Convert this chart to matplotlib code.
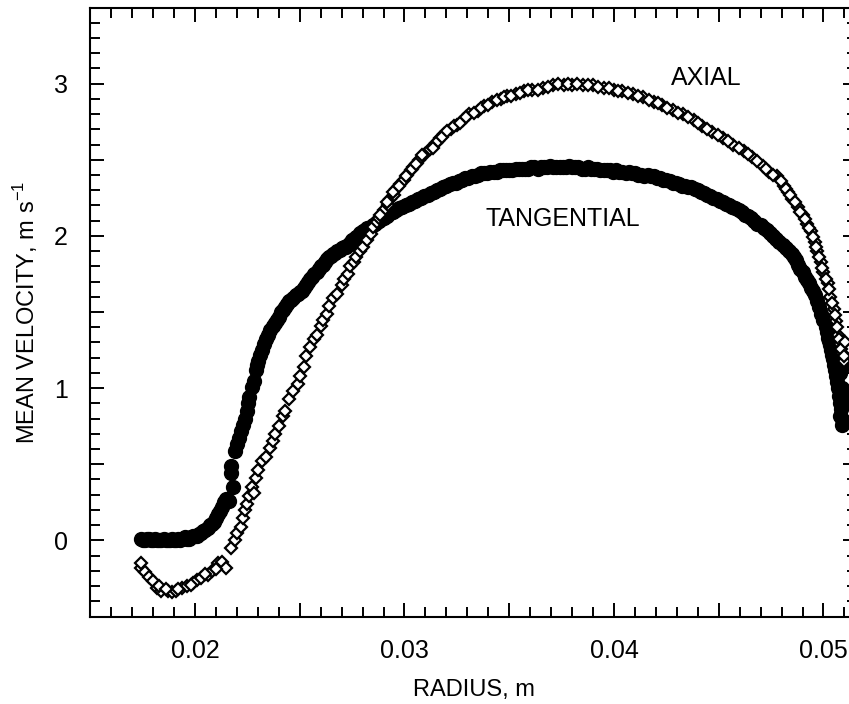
import matplotlib
matplotlib.use("Agg")
import matplotlib.pyplot as plt
from matplotlib.ticker import MultipleLocator, FuncFormatter

plt.rcParams['font.family'] = ['Liberation Sans', 'DejaVu Sans']

# ---- data ----
# TANGENTIAL (filled circles), first set of readings
tan_r = [0.0174, 0.0176, 0.0178, 0.0180, 0.0182, 0.0184, 0.0186, 0.0188, 0.0190, 0.0192,
         0.0194, 0.0196, 0.0198, 0.0200, 0.0202, 0.0204, 0.0206, 0.0208, 0.0210, 0.0212,
         0.0213, 0.0214, 0.0215,
         0.0218, 0.0217, 0.0217, 0.0219, 0.0221, 0.0223, 0.0225, 0.0226, 0.0227, 0.0229,
         0.0230, 0.0232, 0.0234, 0.0236, 0.0238, 0.0240, 0.0242, 0.0244, 0.0246, 0.0248,
         0.0250, 0.0252, 0.0254, 0.0256, 0.0258, 0.0260, 0.0262, 0.0264, 0.0266, 0.0268,
         0.0270, 0.0272, 0.0274, 0.0276, 0.0278, 0.0280, 0.0282, 0.0284, 0.0286, 0.0288,
         0.0290, 0.0293, 0.0296, 0.0299, 0.0302, 0.0305, 0.0308, 0.0311, 0.0314, 0.0317,
         0.0320, 0.0323, 0.0326, 0.0329, 0.0332, 0.0335, 0.0338, 0.0341, 0.0344, 0.0347,
         0.0350, 0.0353, 0.0356, 0.0359, 0.0362, 0.0365, 0.0368, 0.0371, 0.0374, 0.0377,
         0.0380, 0.0383, 0.0386, 0.0389, 0.0392, 0.0395, 0.0398, 0.0401, 0.0404, 0.0407,
         0.0410, 0.0413, 0.0416, 0.0419, 0.0422, 0.0425, 0.0428, 0.0431, 0.0434, 0.0437,
         0.0440, 0.0443, 0.0446, 0.0449, 0.0452, 0.0455, 0.0458, 0.0461, 0.0464, 0.0467,
         0.0470, 0.0473, 0.0476, 0.0479, 0.0482, 0.0485, 0.0487, 0.0489, 0.0491, 0.0493,
         0.0495, 0.0497, 0.0499, 0.0501, 0.0502, 0.0503, 0.0504, 0.0505, 0.0506, 0.0507,
         0.0508, 0.0508, 0.0509]
tan_v = [0.01, 0.00, 0.01, 0.00, 0.00, 0.00, 0.00, 0.00, 0.00, 0.01,
         0.01, 0.01, 0.02, 0.03, 0.04, 0.06, 0.08, 0.11, 0.15, 0.19,
         0.22, 0.25, 0.27,
         0.35, 0.44, 0.49, 0.59, 0.67, 0.76, 0.85, 0.94, 1.01, 1.12,
         1.18, 1.25, 1.32, 1.38, 1.43, 1.47, 1.51, 1.55, 1.58, 1.61,
         1.63, 1.66, 1.70, 1.73, 1.76, 1.80, 1.83, 1.86, 1.88, 1.90,
         1.92, 1.93, 1.95, 1.98, 2.00, 2.03, 2.05, 2.06, 2.08, 2.10,
         2.12, 2.15, 2.17, 2.19, 2.21, 2.23, 2.25, 2.27, 2.29, 2.31,
         2.33, 2.35, 2.36, 2.38, 2.39, 2.40, 2.41, 2.42, 2.42, 2.43,
         2.43, 2.44, 2.44, 2.44, 2.45, 2.45, 2.45, 2.45, 2.45, 2.45,
         2.45, 2.45, 2.44, 2.44, 2.44, 2.43, 2.43, 2.43, 2.42, 2.42,
         2.41, 2.40, 2.40, 2.39, 2.38, 2.37, 2.35, 2.34, 2.33, 2.32,
         2.30, 2.28, 2.26, 2.24, 2.22, 2.20, 2.18, 2.16, 2.13, 2.10,
         2.07, 2.04, 2.00, 1.96, 1.92, 1.88, 1.84, 1.78, 1.73, 1.69,
         1.64, 1.57, 1.49, 1.40, 1.33, 1.28, 1.22, 1.15, 1.08, 1.00,
         0.90, 0.82, 0.76]

# TANGENTIAL, repeat readings (scatter of the measured band)
tan_r_rep = [0.0175, 0.0177, 0.0179, 0.0181, 0.0183, 0.0185, 0.0187, 0.0189, 0.0191, 0.0193,
             0.0195, 0.0197, 0.0199, 0.0201, 0.0203, 0.0205, 0.0207, 0.0209, 0.0211, 0.0216,
             0.0220, 0.0222, 0.0224, 0.02255, 0.0228, 0.02295, 0.0231, 0.0233, 0.0235, 0.0237,
             0.0239, 0.0241, 0.0243, 0.0245, 0.0247, 0.0249, 0.0251, 0.0253, 0.0255, 0.0257,
             0.0259, 0.0261, 0.0263, 0.0265, 0.0267, 0.0269, 0.0271, 0.0273, 0.0275, 0.0277,
             0.0279, 0.0281, 0.0283, 0.0285, 0.0287, 0.0289, 0.02915, 0.02945, 0.02975, 0.03005,
             0.03035, 0.03065, 0.03095, 0.03125, 0.03155, 0.03185, 0.03215, 0.03245, 0.03275, 0.03305,
             0.03335, 0.03365, 0.03395, 0.03425, 0.03455, 0.03485, 0.03515, 0.03545, 0.03575, 0.03605,
             0.03635, 0.03665, 0.03695, 0.03725, 0.03755, 0.03785, 0.03815, 0.03845, 0.03875, 0.03905,
             0.03935, 0.03965, 0.03995, 0.04025, 0.04055, 0.04085, 0.04115, 0.04145, 0.04175, 0.04205,
             0.04235, 0.04265, 0.04295, 0.04325, 0.04355, 0.04385, 0.04415, 0.04445, 0.04475, 0.04505,
             0.04535, 0.04565, 0.04595, 0.04625, 0.04655, 0.04685, 0.04715, 0.04745, 0.04775, 0.04805,
             0.04835, 0.0486, 0.0488, 0.0490, 0.0492, 0.0494, 0.0496, 0.0498, 0.0500, 0.05015,
             0.05025, 0.05035, 0.05045, 0.05055, 0.05065, 0.05075, 0.05085, 0.0509, 0.0508, 0.0509,
             0.0510, 0.0510, 0.0511]
tan_v_rep = [0.00, 0.01, 0.00, 0.01, 0.00, 0.01, 0.00, 0.01, 0.00, 0.00,
             0.02, 0.01, 0.03, 0.03, 0.05, 0.07, 0.10, 0.12, 0.17, 0.26,
             0.63, 0.72, 0.80, 0.90, 1.05, 1.15, 1.22, 1.29, 1.35, 1.41,
             1.45, 1.50, 1.53, 1.57, 1.59, 1.62, 1.64, 1.68, 1.72, 1.75,
             1.78, 1.81, 1.85, 1.87, 1.89, 1.91, 1.93, 1.94, 1.97, 1.99,
             2.02, 2.04, 2.05, 2.07, 2.09, 2.11, 2.13, 2.16, 2.18, 2.20,
             2.22, 2.24, 2.26, 2.28, 2.30, 2.32, 2.34, 2.35, 2.37, 2.38,
             2.39, 2.41, 2.41, 2.42, 2.43, 2.43, 2.43, 2.44, 2.44, 2.45,
             2.44, 2.45, 2.46, 2.45, 2.45, 2.46, 2.45, 2.44, 2.45, 2.44,
             2.43, 2.43, 2.42, 2.42, 2.41, 2.41, 2.40, 2.39, 2.39, 2.38,
             2.37, 2.36, 2.35, 2.33, 2.32, 2.31, 2.29, 2.27, 2.25, 2.23,
             2.21, 2.19, 2.17, 2.14, 2.12, 2.08, 2.05, 2.02, 1.98, 1.94,
             1.90, 1.86, 1.81, 1.76, 1.71, 1.66, 1.61, 1.53, 1.45, 1.37,
             1.31, 1.25, 1.19, 1.12, 1.04, 0.95, 0.86, 0.80, 1.10, 1.00,
             0.90, 1.15, 0.95]

# AXIAL (open diamonds), first set of readings
ax_r = [0.0174, 0.0174, 0.0176, 0.0178, 0.0180, 0.0182, 0.0184, 0.0187, 0.0189, 0.0191,
        0.0194, 0.0196, 0.0199, 0.0201, 0.0203, 0.0206, 0.0208, 0.0211, 0.0213, 0.0215,
        0.0217, 0.0219, 0.0220, 0.0222, 0.0223, 0.0224, 0.0225, 0.0226, 0.0227, 0.0228,
        0.0229, 0.0230, 0.0232, 0.0234, 0.0236, 0.0237, 0.0238, 0.0240, 0.0242, 0.0243,
        0.0245, 0.0247, 0.0249, 0.0250, 0.0252, 0.0253, 0.0255, 0.0257, 0.0258, 0.0260,
        0.0261, 0.0263, 0.0264, 0.0266, 0.0268, 0.0270, 0.0271, 0.0273, 0.0274, 0.0276,
        0.0277, 0.0279, 0.0280, 0.0282, 0.0284, 0.0285, 0.0287, 0.0288, 0.0290, 0.0292,
        0.0293, 0.0295, 0.0296, 0.0298, 0.0300, 0.0301, 0.0303, 0.0304, 0.0306, 0.0307,
        0.0310, 0.0312, 0.0315, 0.0317, 0.0319, 0.0322, 0.0325, 0.0328, 0.0331, 0.0335,
        0.0338, 0.0342, 0.0346, 0.0349, 0.0353, 0.0357, 0.0361, 0.0366, 0.0371, 0.0376,
        0.0380, 0.0385, 0.0390, 0.0395, 0.0400, 0.0404, 0.0409, 0.0414, 0.0419, 0.0423,
        0.0428, 0.0433, 0.0438, 0.0442, 0.0447, 0.0452, 0.0457, 0.0462, 0.0466, 0.0471,
        0.0474, 0.0478, 0.0481, 0.0483, 0.0485, 0.0488, 0.0490, 0.0492, 0.0494, 0.0496,
        0.0497, 0.0499, 0.0500, 0.0502, 0.0503, 0.0505, 0.0506, 0.0507, 0.0508, 0.0509,
        0.0510]
ax_v = [-0.18, -0.15, -0.21, -0.24, -0.27, -0.31, -0.33, -0.33, -0.34, -0.33,
        -0.31, -0.30, -0.28, -0.26, -0.25, -0.23, -0.20, -0.15, -0.14, -0.18,
        -0.05, 0.00, 0.05, 0.09, 0.15, 0.20, 0.24, 0.29, 0.35, 0.31,
        0.41, 0.46, 0.52, 0.55, 0.61, 0.65, 0.70, 0.75, 0.82, 0.85,
        0.93, 0.98, 1.03, 1.08, 1.14, 1.21, 1.27, 1.32, 1.35, 1.41,
        1.45, 1.49, 1.54, 1.59, 1.62, 1.68, 1.72, 1.75, 1.80, 1.83,
        1.86, 1.90, 1.93, 1.97, 2.01, 2.06, 2.09, 2.12, 2.17, 2.20,
        2.24, 2.27, 2.31, 2.34, 2.37, 2.40, 2.43, 2.45, 2.48, 2.50,
        2.54, 2.57, 2.61, 2.64, 2.67, 2.70, 2.73, 2.76, 2.80, 2.82,
        2.85, 2.88, 2.90, 2.92, 2.93, 2.95, 2.96, 2.97, 2.99, 2.99,
        2.99, 2.99, 2.99, 2.97, 2.96, 2.95, 2.93, 2.91, 2.88, 2.86,
        2.83, 2.80, 2.76, 2.72, 2.68, 2.64, 2.60, 2.56, 2.52, 2.46,
        2.42, 2.39, 2.33, 2.29, 2.24, 2.19, 2.14, 2.08, 2.03, 1.96,
        1.90, 1.83, 1.76, 1.69, 1.60, 1.52, 1.44, 1.35, 1.29, 1.23,
        1.18]

# AXIAL, repeat readings
ax_r_rep = [0.0183, 0.0186, 0.0192, 0.0198, 0.0205, 0.0210,
            0.02885, 0.02915, 0.02945, 0.02975, 0.03005, 0.03035, 0.03055,
            0.03085, 0.03135, 0.03160, 0.03180, 0.03205, 0.03235, 0.03265, 0.03295, 0.03330, 0.03365,
            0.03400, 0.03440, 0.03475, 0.03510, 0.03550, 0.03590, 0.03635, 0.03685, 0.03735, 0.03780,
            0.03825, 0.03875, 0.03925, 0.03975, 0.04020, 0.04065, 0.04115, 0.04165, 0.04210, 0.04255,
            0.04305, 0.04355, 0.04400, 0.04445, 0.04495, 0.04545, 0.04595, 0.04640, 0.04685, 0.04725,
            0.04760, 0.04795, 0.04820, 0.04840, 0.04865, 0.04890, 0.04910, 0.04930, 0.04950, 0.04965,
            0.04980, 0.04995, 0.05010, 0.05025, 0.05040, 0.05055, 0.05065, 0.05075, 0.05085, 0.05100,
            0.05105]
ax_v_rep = [-0.30, -0.32, -0.32, -0.29, -0.22, -0.19,
            2.14, 2.22, 2.29, 2.33, 2.39, 2.44, 2.47,
            2.53, 2.58, 2.62, 2.65, 2.69, 2.72, 2.74, 2.78, 2.81, 2.84,
            2.86, 2.89, 2.91, 2.92, 2.94, 2.96, 2.96, 2.98, 3.00, 3.00,
            3.00, 2.99, 2.98, 2.97, 2.95, 2.94, 2.92, 2.89, 2.87, 2.84,
            2.81, 2.78, 2.74, 2.70, 2.66, 2.62, 2.58, 2.54, 2.49, 2.44,
            2.40, 2.36, 2.31, 2.27, 2.22, 2.16, 2.11, 2.05, 1.99, 1.93,
            1.86, 1.79, 1.72, 1.65, 1.56, 1.48, 1.40, 1.32, 1.26, 1.21,
            1.30]

x_ticklabels = {0.02: "0.02", 0.03: "0.03", 0.04: "0.04", 0.05: "0.05"}
y_ticklabels = {0: "0", 1: "1", 2: "2", 3: "3"}

# ---- figure ----
fig = plt.figure(figsize=(8.49, 7.04), dpi=100)
W, H = 849, 704
l_px, r_px, t_px, b_px = 90.25, 857, 7.5, 616.5
ax = fig.add_axes([l_px / W, 1 - b_px / H, (r_px - l_px) / W, (b_px - t_px) / H])

circle_style = dict(linestyle='none', marker='o', markersize=10,
                    markerfacecolor='black', markeredgecolor='black', zorder=3)
diamond_style = dict(linestyle='none', marker='D', markersize=6.3,
                     markerfacecolor='white', markeredgecolor='black',
                     markeredgewidth=1.6, zorder=4)

ax.plot(tan_r, tan_v, **circle_style)
ax.plot(tan_r_rep, tan_v_rep, **circle_style)
ax.plot(ax_r, ax_v, **diamond_style)
ax.plot(ax_r_rep, ax_v_rep, **diamond_style)

ax.set_xlim(0.015, 0.0516)
ax.set_ylim(-0.5, 3.5)

ax.xaxis.set_major_locator(MultipleLocator(0.005))
ax.xaxis.set_minor_locator(MultipleLocator(0.001))
ax.yaxis.set_major_locator(MultipleLocator(0.5))
ax.yaxis.set_minor_locator(MultipleLocator(0.1))


def fx(v, pos):
    for k, s in x_ticklabels.items():
        if abs(v - k) < 1e-6:
            return s
    return ""


def fy(v, pos):
    for k, s in y_ticklabels.items():
        if abs(v - k) < 1e-6:
            return s
    return ""


ax.xaxis.set_major_formatter(FuncFormatter(fx))
ax.yaxis.set_major_formatter(FuncFormatter(fy))

ax.tick_params(which='both', direction='in', top=True, right=True, width=1.4,
               color='black', labelsize=18, pad=16)
ax.tick_params(which='major', length=10)
ax.tick_params(which='minor', length=7)
for s in ax.spines.values():
    s.set_linewidth(1.5)

ax.set_xlabel("RADIUS, m", fontsize=17, labelpad=12)
ax.set_ylabel("MEAN VELOCITY, m s$^{\\mathregular{-1}}$", fontsize=17, labelpad=10)

ax.text(0.0444, 3.04, "AXIAL", fontsize=18, ha='center', va='center')
ax.text(0.03757, 2.11, "TANGENTIAL", fontsize=18, ha='center', va='center')

fig.savefig("out.png", dpi=100)
